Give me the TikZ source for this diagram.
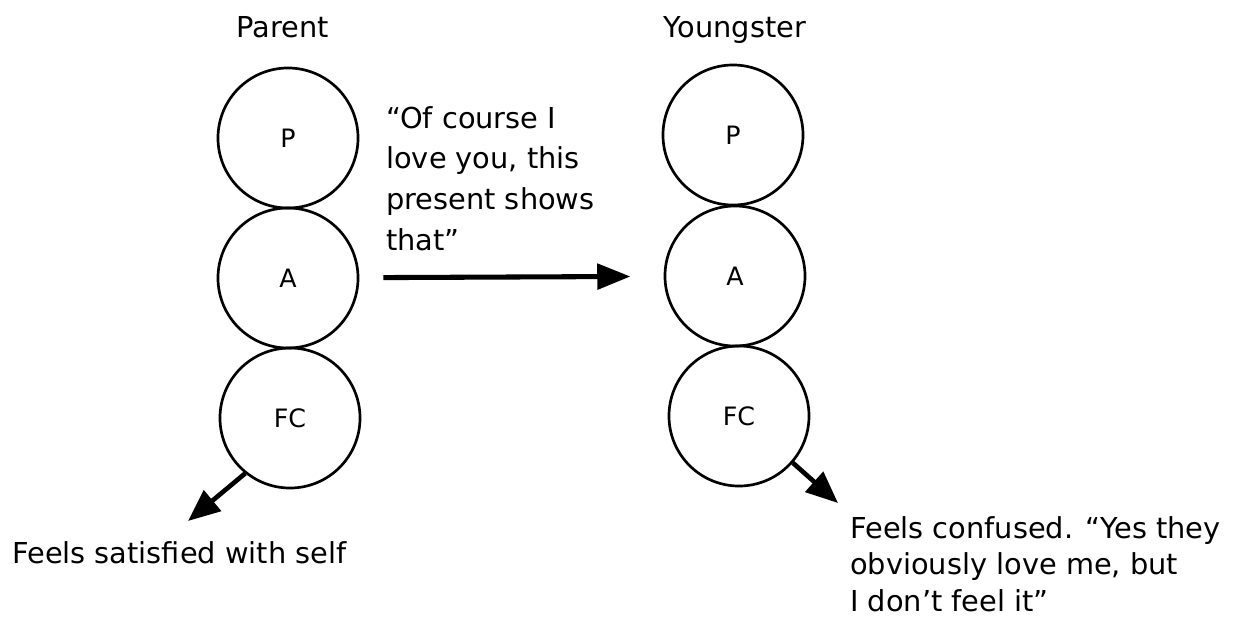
\documentclass[tikz,border=0pt]{standalone}
\usepackage{fontspec}
\setmainfont{DejaVu Sans}
\usetikzlibrary{arrows.meta,positioning}
\tikzset{
  ego state/.style={circle,draw=black,line width=1.9pt,minimum size=3.5cm,
    inner sep=0pt,font=\fontsize{18}{20}\selectfont},
  side title/.style={anchor=base,inner sep=0pt,font=\fontsize{20.5}{24}\selectfont},
  talk text/.style={anchor=north west,align=left,inner sep=0pt,
    font=\fontsize{20.5}{29}\selectfont},
  feel text/.style={anchor=north west,align=left,inner sep=0pt,
    font=\fontsize{20.5}{26}\selectfont},
  talk arrow/.style={-{Triangle[length=0.83cm,width=0.63cm]},line width=3.6pt},
  feel arrow/.style={-{Triangle[length=0.8cm,width=0.66cm]},line width=3.3pt}
}
\begin{document}
\begin{tikzpicture}[x=0.025cm,y=-0.025cm]
  \useasboundingbox (0,0) rectangle (1237,620);
  % the two people
  \node[side title] (parenttitle) at (283,37) {Parent};
  \node[side title] (youngtitle) at (735,37) {Youngster};
  \foreach \st/\x/\y in {P/288/138,A/288/278,FC/290/418}
    \node[ego state] (parent\st) at (\x,\y) {\st};
  \foreach \st/\x/\y in {P/733/135,A/735/276,FC/739/416}
    \node[ego state] (young\st) at (\x,\y) {\st};
  % the message
  \node[talk text] (message) at (386,106)
    {“Of course I\\love you, this\\present shows\\that”};
  \draw[talk arrow,shorten <=0.6cm,shorten >=0.83cm] (parentA) -- (youngA);
  % how each one feels
  \coordinate (parenttip) at (188,521);
  \coordinate (youngtip) at (838,503);
  \draw[feel arrow] (parentFC.231) -- (parenttip);
  \draw[feel arrow] (youngFC.-41) -- (youngtip);
  \node[feel text] (parentfeel) at (12,541) {Feels satisfied with self};
  \node[feel text] (youngfeel) at (850,516)
    {Feels confused. “Yes they\\obviously love me, but\\I don’t feel it”};
\end{tikzpicture}
\end{document}
